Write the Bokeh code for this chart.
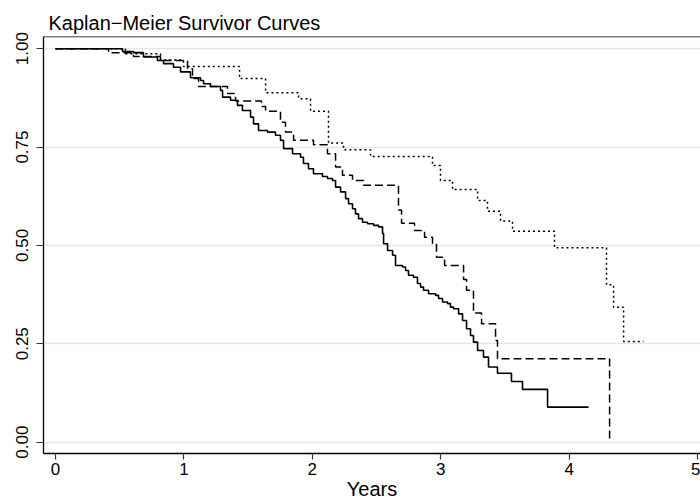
from bokeh.plotting import figure
from bokeh.models import Range1d, FixedTicker, NumeralTickFormatter, Span
from bokeh.embed import file_html
from bokeh.resources import INLINE

# Group 1 (solid)
t1 = [0.0, 0.522, 0.607, 0.685, 0.794, 0.841, 0.919, 0.974, 1.051, 1.129, 1.153,
      1.207, 1.285, 1.301, 1.363, 1.417, 1.456, 1.519, 1.542, 1.581, 1.651, 1.713,
      1.752, 1.776, 1.846, 1.908, 1.931, 1.970, 2.009, 2.079, 2.118, 2.157, 2.181,
      2.220, 2.259, 2.282, 2.313, 2.336, 2.360, 2.391, 2.430, 2.477, 2.516, 2.547,
      2.555, 2.586, 2.625, 2.648, 2.702, 2.726, 2.749, 2.788, 2.819, 2.843, 2.866,
      2.905, 2.960, 2.983, 3.014, 3.053, 3.076, 3.100, 3.139, 3.170, 3.201, 3.232,
      3.255, 3.287, 3.333, 3.372, 3.442, 3.551, 3.637, 3.832, 4.151]
s1 = [1.0, 0.993, 0.990, 0.979, 0.970, 0.962, 0.953, 0.941, 0.926, 0.919, 0.911,
      0.904, 0.894, 0.877, 0.869, 0.856, 0.843, 0.826, 0.809, 0.792, 0.788, 0.780,
      0.767, 0.746, 0.733, 0.724, 0.708, 0.695, 0.682, 0.675, 0.670, 0.665, 0.648,
      0.636, 0.619, 0.606, 0.593, 0.580, 0.568, 0.559, 0.555, 0.551, 0.547, 0.530,
      0.504, 0.487, 0.475, 0.449, 0.445, 0.436, 0.424, 0.419, 0.403, 0.394, 0.386,
      0.377, 0.373, 0.365, 0.356, 0.352, 0.343, 0.339, 0.326, 0.309, 0.288, 0.271,
      0.254, 0.233, 0.216, 0.191, 0.175, 0.154, 0.134, 0.089, 0.089]

# Group 2 (dashed)
t2 = [0.0, 0.413, 0.607, 0.818, 1.028, 1.067, 1.114, 1.340, 1.402, 1.604, 1.636,
      1.752, 1.791, 1.854, 2.009, 2.118, 2.181, 2.235, 2.313, 2.399, 2.671, 2.695,
      2.796, 2.874, 2.936, 2.967, 3.030, 3.178, 3.201, 3.255, 3.318, 3.427, 3.442,
      4.315]
s2 = [1.0, 0.990, 0.980, 0.970, 0.949, 0.924, 0.904, 0.886, 0.867, 0.853, 0.841,
      0.813, 0.788, 0.767, 0.756, 0.733, 0.699, 0.678, 0.665, 0.653, 0.590, 0.556,
      0.538, 0.521, 0.505, 0.470, 0.449, 0.413, 0.386, 0.328, 0.301, 0.258, 0.212,
      0.0]

# Group 3 (dotted)
t3 = [0.0, 0.545, 0.818, 0.997, 1.433, 1.636, 1.893, 1.986, 2.126, 2.243, 2.453,
      2.936, 2.998, 3.092, 3.287, 3.364, 3.466, 3.559, 3.886, 4.291, 4.346, 4.424,
      4.579]
s3 = [1.0, 0.987, 0.971, 0.955, 0.924, 0.888, 0.873, 0.841, 0.760, 0.743, 0.726,
      0.703, 0.665, 0.642, 0.614, 0.587, 0.562, 0.536, 0.494, 0.400, 0.343, 0.256,
      0.256]

x_ticks = [0, 1, 2, 3, 4, 5]
y_ticks = [0.0, 0.25, 0.5, 0.75, 1.0]

FONT = "Liberation Sans"
X0, X1 = -0.0935, 5.023
Y0, Y1 = -0.029, 1.031

p = figure(width=700, height=502, output_backend="svg", toolbar_location=None,
           x_range=Range1d(X0, X1), y_range=Range1d(Y0, Y1),
           min_border_left=43, min_border_right=0, min_border_top=36,
           min_border_bottom=49)
p.outline_line_color = None
p.background_fill_color = "white"
p.border_fill_color = "white"

p.title.text = "Kaplan\u2212Meier Survivor Curves"
p.title.text_font = FONT
p.title.text_font_size = "20px"
p.title.text_font_style = "normal"
p.title.text_color = "black"
p.title.align = "left"
p.title.offset = 5
p.title.standoff = 6

p.xgrid.grid_line_color = None
p.ygrid.grid_line_color = "#e6e6e6"
p.ygrid.grid_line_width = 1.5
p.ygrid.ticker = FixedTicker(ticks=y_ticks)

for ax in (p.xaxis[0], p.yaxis[0]):
    ax.axis_line_color = "black"
    ax.axis_line_width = 1.3
    ax.major_tick_line_color = "#333333"
    ax.major_tick_line_width = 1.2
    ax.major_tick_in = 0
    ax.minor_tick_line_color = None
    ax.major_label_text_font = FONT
    ax.major_label_text_font_size = "17px"
    ax.major_label_text_color = "black"

p.xaxis.ticker = FixedTicker(ticks=x_ticks)
p.xaxis.major_tick_out = 6
p.xaxis.major_label_standoff = 3
p.xaxis.axis_label = "Years"
p.xaxis.axis_label_text_font = FONT
p.xaxis.axis_label_text_font_size = "20px"
p.xaxis.axis_label_text_font_style = "normal"
p.xaxis.axis_label_text_color = "black"
p.xaxis.axis_label_standoff = 0

p.yaxis.ticker = FixedTicker(ticks=y_ticks)
p.yaxis.formatter = NumeralTickFormatter(format="0.00")
p.yaxis.major_label_orientation = "vertical"
p.yaxis.major_tick_out = 7
p.yaxis.major_label_standoff = 8

p.add_layout(Span(location=Y1, dimension="width", line_color="black",
                  line_width=1.3))

p.step(t1, s1, mode="after", line_color="black", line_width=1.6)
p.step(t2, s2, mode="after", line_color="black", line_width=1.5,
       line_dash="8 4")
p.step(t3, s3, mode="after", line_color="black", line_width=1.5,
       line_dash="2 3")

open("out.html", "w").write(file_html(p, INLINE))
